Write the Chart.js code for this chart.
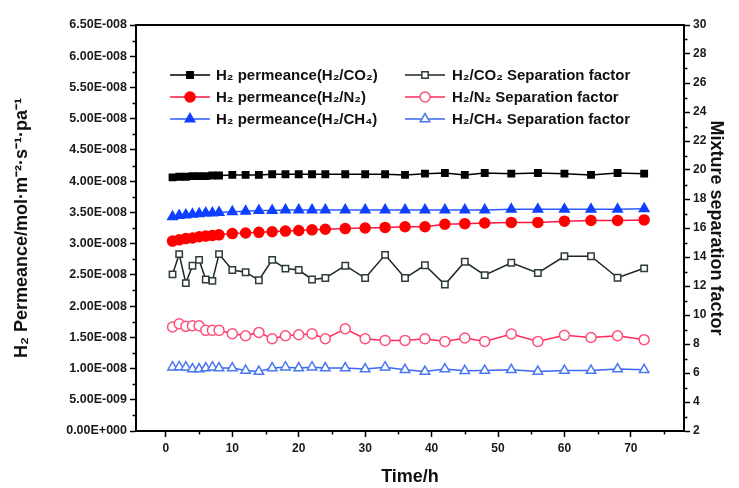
<!DOCTYPE html>
<html><head><meta charset="utf-8">
<script src="https://cdn.jsdelivr.net/npm/chart.js@4/dist/chart.umd.min.js"></script>
<style>html,body{margin:0;padding:0;background:#fff}#wrap{width:739px;height:488px}</style>
</head><body><div id="wrap"><canvas id="c" width="739" height="488"></canvas></div>
<script>
// ---- data ----
const timeH = [1,2,3,4,5,6,7,8,10,12,14,16,18,20,22,24,27,30,33,36,39,42,45,48,52,56,60,64,68,72];
const permCO2 = [4.06e-8,4.07e-8,4.07e-8,4.08e-8,4.08e-8,4.08e-8,4.09e-8,4.09e-8,4.10e-8,4.10e-8,4.10e-8,4.11e-8,4.11e-8,4.11e-8,4.11e-8,4.11e-8,4.11e-8,4.11e-8,4.11e-8,4.10e-8,4.12e-8,4.13e-8,4.10e-8,4.13e-8,4.12e-8,4.13e-8,4.12e-8,4.10e-8,4.13e-8,4.12e-8];
const permN2 = [3.04e-8,3.06e-8,3.08e-8,3.09e-8,3.11e-8,3.12e-8,3.13e-8,3.14e-8,3.16e-8,3.17e-8,3.18e-8,3.19e-8,3.20e-8,3.21e-8,3.22e-8,3.23e-8,3.24e-8,3.25e-8,3.26e-8,3.27e-8,3.27e-8,3.31e-8,3.32e-8,3.33e-8,3.34e-8,3.34e-8,3.36e-8,3.37e-8,3.37e-8,3.38e-8];
const permCH4 = [3.43e-8,3.45e-8,3.46e-8,3.47e-8,3.48e-8,3.49e-8,3.49e-8,3.50e-8,3.51e-8,3.52e-8,3.53e-8,3.53e-8,3.54e-8,3.54e-8,3.54e-8,3.54e-8,3.54e-8,3.54e-8,3.54e-8,3.54e-8,3.54e-8,3.54e-8,3.54e-8,3.54e-8,3.55e-8,3.55e-8,3.55e-8,3.55e-8,3.55e-8,3.56e-8];
const sepCO2 = [12.8,14.2,12.2,13.4,13.8,12.45,12.35,14.2,13.1,12.95,12.4,13.8,13.2,13.1,12.45,12.55,13.4,12.55,14.15,12.55,13.43,12.1,13.67,12.75,13.6,12.9,14.05,14.05,12.57,13.22];
const sepN2 = [9.17,9.4,9.22,9.26,9.26,8.94,8.94,8.94,8.71,8.57,8.8,8.36,8.57,8.64,8.71,8.36,9.05,8.36,8.25,8.25,8.36,8.18,8.41,8.18,8.69,8.18,8.6,8.45,8.57,8.3];
const sepCH4 = [6.4,6.42,6.4,6.27,6.27,6.34,6.4,6.34,6.34,6.17,6.1,6.34,6.4,6.34,6.4,6.34,6.34,6.27,6.4,6.22,6.1,6.27,6.15,6.17,6.22,6.1,6.17,6.17,6.27,6.22];

const seriesLabels = ['H\u2082 permeance(H\u2082/CO\u2082)','H\u2082 permeance(H\u2082/N\u2082)','H\u2082 permeance(H\u2082/CH\u2084)',
  'H\u2082/CO\u2082 Separation factor','H\u2082/N\u2082 Separation factor','H\u2082/CH\u2084 Separation factor'];

const xTickVals = [0,10,20,30,40,50,60,70];
const xMinorVals = [5,15,25,35,45,55,65,75];
const yLeftTickVals = [0,0.5e-8,1.0e-8,1.5e-8,2.0e-8,2.5e-8,3.0e-8,3.5e-8,4.0e-8,4.5e-8,5.0e-8,5.5e-8,6.0e-8,6.5e-8];
const yLeftTickLabels = ['0.00E+000','5.00E-009','1.00E-008','1.50E-008','2.00E-008','2.50E-008','3.00E-008','3.50E-008','4.00E-008','4.50E-008','5.00E-008','5.50E-008','6.00E-008','6.50E-008'];
const yLeftMinorVals = [0.25e-8,0.75e-8,1.25e-8,1.75e-8,2.25e-8,2.75e-8,3.25e-8,3.75e-8,4.25e-8,4.75e-8,5.25e-8,5.75e-8,6.25e-8];
const yRightTickVals = [2,4,6,8,10,12,14,16,18,20,22,24,26,28,30];
const yRightMinorVals = [3,5,7,9,11,13,15,17,19,21,23,25,27,29];

const pts = arr => arr.map((v,i)=>({x:timeH[i], y:v}));

const FONT = '"Liberation Sans", Arial, Helvetica, sans-serif';

function mk(label, data, axis, line, pBorder, pFill, style, r){
  return {label, data:pts(data), yAxisID:axis, borderColor:line, borderWidth:1.5,
    pointStyle:style, pointRadius:r, pointBorderColor:pBorder, pointBackgroundColor:pFill,
    pointBorderWidth:1.5, tension:0, fill:false};
}

const datasets = [
  mk(seriesLabels[0], permCO2, 'yL', '#000000', '#000000', '#000000', 'rect', 4.5),
  mk(seriesLabels[1], permN2, 'yL', '#ff1744', '#ff0000', '#ff0000', 'circle', 5),
  mk(seriesLabels[2], permCH4, 'yL', '#2a5cff', '#1040ff', '#1040ff', 'triangle', 5.5),
  mk(seriesLabels[3], sepCO2, 'yR', '#1c2624', '#2c3d39', '#ffffff', 'rect', 4.5),
  mk(seriesLabels[4], sepN2, 'yR', '#ff2a5a', '#ff4f7b', '#ffffff', 'circle', 5),
  mk(seriesLabels[5], sepCH4, 'yR', '#3a68f0', '#4a78f0', '#ffffff', 'triangle', 5.5)
];

const extras = {
  id:'extras',
  afterDraw(chart){
    const ctx = chart.ctx, ca = chart.chartArea;
    const sx = chart.scales.x, sl = chart.scales.yL, sr = chart.scales.yR;
    ctx.save();
    ctx.strokeStyle = '#000'; ctx.lineWidth = 2;
    ctx.beginPath(); ctx.moveTo(ca.left-1, ca.top); ctx.lineTo(ca.right+1, ca.top); ctx.stroke();
    ctx.lineWidth = 1.5;
    xMinorVals.forEach(v=>{const p=Math.round(sx.getPixelForValue(v))+0.5; if(p<ca.right){ctx.beginPath();ctx.moveTo(p,ca.bottom);ctx.lineTo(p,ca.bottom+3.5);ctx.stroke();}});
    yLeftMinorVals.forEach(v=>{const p=Math.round(sl.getPixelForValue(v))+0.5; ctx.beginPath();ctx.moveTo(ca.left,p);ctx.lineTo(ca.left-3.5,p);ctx.stroke();});
    yRightMinorVals.forEach(v=>{const p=Math.round(sr.getPixelForValue(v))+0.5; ctx.beginPath();ctx.moveTo(ca.right,p);ctx.lineTo(ca.right+3.5,p);ctx.stroke();});
    // legend
    const cols = [170, 405], rows = [75, 97, 119];
    chart.data.datasets.forEach((ds,i)=>{
      const x0 = cols[i<3?0:1], y = rows[i%3];
      ctx.strokeStyle = ds.borderColor; ctx.lineWidth = 1.5;
      ctx.beginPath(); ctx.moveTo(x0,y); ctx.lineTo(x0+40,y); ctx.stroke();
      ctx.fillStyle = ds.pointBackgroundColor; ctx.strokeStyle = ds.pointBorderColor; ctx.lineWidth = 1.5;
      Chart.helpers.drawPoint(ctx, {pointStyle:ds.pointStyle, radius:ds.pointRadius, borderWidth:1.5, rotation:0}, x0+20, y);
      ctx.fillStyle = '#111'; ctx.font = 'bold 15px ' + FONT; ctx.textBaseline = 'middle'; ctx.textAlign = 'left';
      ctx.fillText(ds.label, x0+(i<3?46:47), y+1);
    });
    ctx.restore();
  }
};

const tickFont = {family: FONT, size: 12, weight: 'bold'};
const titleFont = {family: FONT, size: 18, weight: 'bold'};
const gridOpt = {display:true, drawOnChartArea:false, drawTicks:true, tickLength:6, tickWidth:1.5, tickColor:'#000'};
const borderOpt = {display:true, color:'#000', width:2};

new Chart(document.getElementById('c'), {
  type:'line',
  data:{datasets},
  options:{
    responsive:false, animation:false, devicePixelRatio:1,
    layout:{padding:{top:25, left:0, right:0, bottom:0}},
    plugins:{legend:{display:false}, tooltip:{enabled:false}},
    scales:{
      x:{type:'linear', position:'bottom', min:-4.5, max:78,
        afterBuildTicks:s=>{s.ticks = xTickVals.map(v=>({value:v}));},
        afterFit:s=>{s.height = 57;},
        ticks:{font:tickFont, color:'#1a1a1a', padding:4, maxRotation:0, autoSkip:false, callback:v=>String(v)},
        grid:gridOpt, border:borderOpt,
        title:{display:true, text:'Time/h', font:titleFont, color:'#111', padding:{top:0,bottom:0}}},
      yL:{type:'linear', position:'left', min:0, max:6.5e-8,
        afterBuildTicks:s=>{s.ticks = yLeftTickVals.map(v=>({value:v}));},
        afterFit:s=>{s.width = 136;},
        ticks:{font:{family:FONT,size:12.5,weight:'bold'}, color:'#1a1a1a', padding:3, autoSkip:false, callback:(v,i)=>yLeftTickLabels[i]},
        grid:gridOpt, border:borderOpt,
        title:{display:true, text:'H\u2082 Permeance/mol\u00b7m\u207b\u00b2\u00b7s\u207b\u00b9\u00b7pa\u207b\u00b9', font:titleFont, color:'#111', padding:{top:11,bottom:0}}},
      yR:{type:'linear', position:'right', min:2, max:30,
        afterBuildTicks:s=>{s.ticks = yRightTickVals.map(v=>({value:v}));},
        afterFit:s=>{s.width = 55;},
        ticks:{font:tickFont, color:'#1a1a1a', padding:3, autoSkip:false, callback:v=>String(v)},
        grid:gridOpt, border:borderOpt,
        title:{display:true, text:'Mixture separation factor', font:titleFont, color:'#111', padding:{top:12,bottom:0}}}
    }
  },
  plugins:[extras]
});
</script></body></html>
